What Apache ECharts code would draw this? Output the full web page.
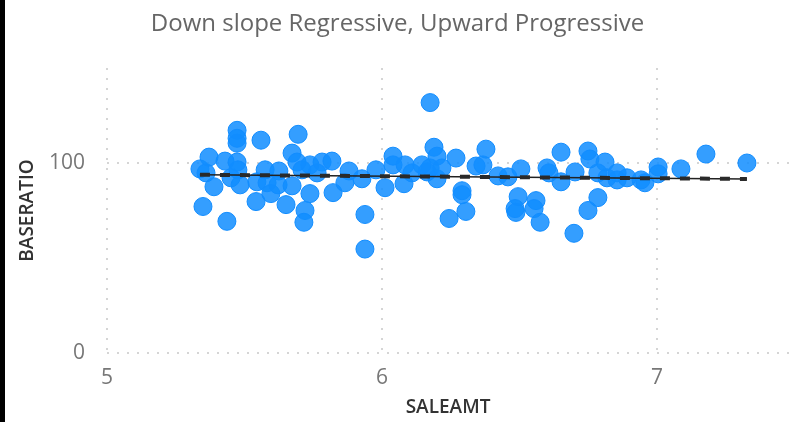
<!DOCTYPE html>
<html>
<head>
<meta charset="utf-8">
<script src="https://cdn.jsdelivr.net/npm/echarts@6/dist/echarts.min.js"></script>
<style>
html,body{margin:0;padding:0;background:#fff;}
#chart{width:795px;height:422px;}
</style>
</head>
<body>
<div id="chart"></div>
<script>
const titleText = 'Down slope Regressive, Upward Progressive';
const xName = 'SALEAMT';
const yName = 'BASERATIO';

const saleAmt = [
  5.338, 5.360, 5.371, 5.389, 5.349, 5.429, 5.436, 5.473, 5.473, 5.473,
  5.473, 5.476, 5.451, 5.484, 5.560, 5.542, 5.575, 5.545, 5.582, 5.596,
  5.625, 5.622, 5.651, 5.673, 5.695, 5.673, 5.691, 5.709, 5.738, 5.738,
  5.720, 5.716, 5.782, 5.818, 5.822, 5.764, 5.880, 5.865, 5.927, 5.938,
  5.938, 5.978, 6.011, 6.040, 6.040, 6.084, 6.080, 6.109, 6.145, 6.175,
  6.189, 6.200, 6.175, 6.164, 6.200, 6.218, 6.269, 6.291, 6.291, 6.305,
  6.244, 6.342, 6.378, 6.367, 6.422, 6.458, 6.505, 6.495, 6.484, 6.487,
  6.560, 6.553, 6.575, 6.600, 6.607, 6.651, 6.651, 6.702, 6.698, 6.749,
  6.756, 6.749, 6.785, 6.811, 6.785, 6.818, 6.855, 6.855, 6.891, 6.942,
  6.956, 7.004, 7.004, 7.087, 7.178, 7.327
];
const baseRatio = [
  96.9, 94.8, 103.1, 87.5, 77.1, 101.0, 69.3, 117.2, 113.0, 110.4,
  100.5, 96.4, 92.2, 88.5, 112.0, 79.7, 96.4, 90.1, 89.6, 83.9,
  95.8, 88.5, 78.1, 88.0, 115.1, 105.2, 100.5, 96.4, 99.0, 83.9,
  75.0, 68.8, 100.5, 101.0, 84.4, 94.8, 95.8, 89.6, 91.7, 72.9,
  54.7, 96.4, 87.0, 103.6, 99.0, 99.0, 89.1, 94.8, 99.0, 131.8,
  108.3, 103.6, 97.4, 95.3, 91.7, 97.4, 102.6, 85.4, 83.3, 74.5,
  70.8, 98.4, 107.3, 99.0, 93.2, 92.7, 96.9, 82.3, 76.0, 74.0,
  80.2, 76.0, 68.8, 97.4, 94.8, 105.7, 90.1, 95.3, 63.0, 106.3,
  102.1, 75.0, 81.8, 100.5, 94.8, 92.2, 94.8, 91.1, 92.2, 91.1,
  89.6, 97.9, 94.3, 96.9, 104.7, 100.0
];
const trendX = [5.338, 7.327];
const trendY = [93.8, 91.6];
const xTicks = [5, 6, 7];
const yTicks = [0, 100];

const points = saleAmt.map((x, i) => [x, baseRatio[i]]);
const trend = trendX.map((x, i) => [x, trendY[i]]);

const chart = echarts.init(document.getElementById('chart'), null, {renderer: 'canvas'});
const font = '"Open Sans", "Noto Sans", sans-serif';
const gridStyle = {color: '#c8c8c8', type: [2, 8], width: 1.5};

chart.setOption({
  animation: false,
  backgroundColor: '#fff',
  title: {
    text: titleText,
    left: 'center',
    top: 7,
    textStyle: {fontFamily: font, fontSize: 24, fontWeight: 'normal', color: '#666'}
  },
  graphic: [{
    type: 'rect', left: 0, top: 0, z: 100,
    shape: {width: 5, height: 422},
    style: {fill: '#000'}
  }],
  grid: {left: 107, right: 6, top: 68, bottom: 66},
  xAxis: {
    type: 'value', min: 5, max: 7.48, interval: 1,
    name: xName, nameLocation: 'middle', nameGap: 45,
    nameTextStyle: {fontFamily: font, fontSize: 19, fontWeight: 600, color: '#333'},
    axisLine: {show: false}, axisTick: {show: false},
    axisLabel: {fontFamily: font, fontSize: 21, color: '#777', margin: 15, showMaxLabel: false,
      formatter: v => xTicks.includes(v) ? String(v) : ''},
    splitLine: {show: true, showMaxLine: false, lineStyle: gridStyle}
  },
  yAxis: {
    type: 'value', min: 0, max: 150, interval: 100,
    name: yName, nameLocation: 'middle', nameGap: 70,
    nameTextStyle: {fontFamily: font, fontSize: 19, fontWeight: 600, color: '#333'},
    axisLine: {show: false}, axisTick: {show: false},
    axisLabel: {fontFamily: font, fontSize: 21, color: '#777', margin: 22, showMaxLabel: false,
      formatter: v => yTicks.includes(v) ? String(v) : ''},
    splitLine: {show: true, showMaxLine: false, lineStyle: gridStyle}
  },
  series: [
    {
      type: 'scatter', data: points, symbolSize: 18, z: 2,
      itemStyle: {color: 'rgba(17,141,255,0.85)', borderColor: '#118DFF', borderWidth: 1, opacity: 1}
    },
    {
      type: 'line', data: trend, symbol: 'none', z: 3, silent: true,
      lineStyle: {color: '#222', width: 1.5}
    },
    {
      type: 'line', data: trend, symbol: 'none', z: 4, silent: true,
      lineStyle: {color: '#2a2a2a', width: 4, type: [10, 10]}
    }
  ]
});
</script>
</body>
</html>
